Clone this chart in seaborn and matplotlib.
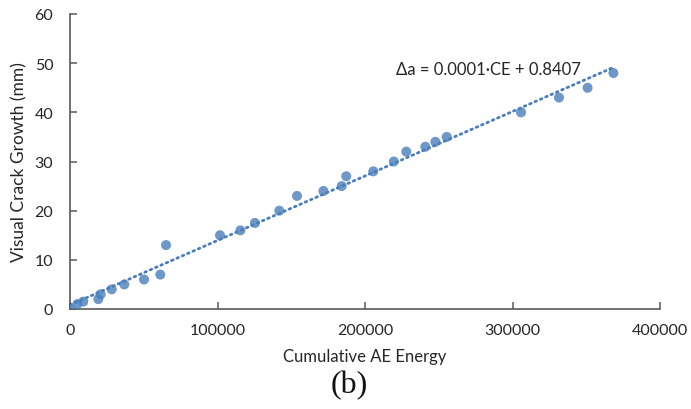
import numpy as np
import pandas as pd
import matplotlib
matplotlib.use("Agg")
import matplotlib.pyplot as plt
import seaborn as sns

# Cumulative acoustic-emission energy and the matching visual crack growth
ae_energy = [0, 5000, 9000, 19200, 20800, 28300, 36800, 50200, 61200, 65100,
             101700, 115500, 125400, 141900, 153900, 171800, 184200, 187300,
             205600, 219500, 228000, 240900, 247700, 255400, 305800, 331500,
             350900, 368400]
crack_growth = [0, 1, 1.5, 2, 3, 4, 5, 6, 7, 13,
                15, 16, 17.5, 20, 23, 24, 25, 27,
                28, 30, 32, 33, 34, 35, 40, 43,
                45, 48]

x_ticks = [0, 100000, 200000, 300000, 400000]
y_ticks = [0, 10, 20, 30, 40, 50, 60]
fit_label = "Δa = 0.0001·CE + 0.8407"

df = pd.DataFrame({"energy": ae_energy, "growth": crack_growth})

sns.set_style("white")
plt.rcParams["font.family"] = ["Lato", "DejaVu Sans"]

blue = "#4a7ebb"
axis_grey = "#595959"
text_col = "#262626"

fig = plt.figure(figsize=(6.91, 4.10), dpi=100)
ax = fig.add_axes([70 / 691, 1 - 310 / 410, 590 / 691, 295 / 410])

sns.regplot(data=df, x="energy", y="growth", ax=ax, ci=None,
            scatter_kws=dict(s=52, color=blue, edgecolor="none", zorder=3),
            line_kws=dict(color=blue, lw=2.0, ls=(0, (0.6, 1.5)),
                          dash_capstyle="round", zorder=2))

ax.set_xlim(0, 400000)
ax.set_ylim(0, 60)
ax.set_xticks(x_ticks)
ax.set_yticks(y_ticks)
ax.set_xticklabels([str(t) for t in x_ticks])
ax.set_yticklabels([str(t) for t in y_ticks])

for side in ("top", "right"):
    ax.spines[side].set_visible(False)
for side in ("left", "bottom"):
    ax.spines[side].set_color(axis_grey)
    ax.spines[side].set_linewidth(1.2)

ax.tick_params(axis="both", direction="in", length=5, width=1.1,
               color=axis_grey, labelsize=11.5, labelcolor=text_col)
ax.tick_params(axis="x", pad=10)
ax.tick_params(axis="y", pad=12)
ax.tick_params(bottom=True, left=True)

ax.set_xlabel("Cumulative AE Energy", fontsize=12, color=text_col, labelpad=8)
ax.set_ylabel("Visual Crack Growth (mm)", fontsize=12.5, color=text_col, labelpad=5)

fig.text(488 / 691, 1 - 70 / 410, fit_label, fontsize=12, color=text_col,
         ha="center", va="center")

fig.text(349 / 691, 1 - 386 / 410, "(b)", fontsize=23, color="#111111",
         family="Liberation Serif", ha="center", va="center")

fig.savefig("out.png", dpi=100, facecolor="white")
